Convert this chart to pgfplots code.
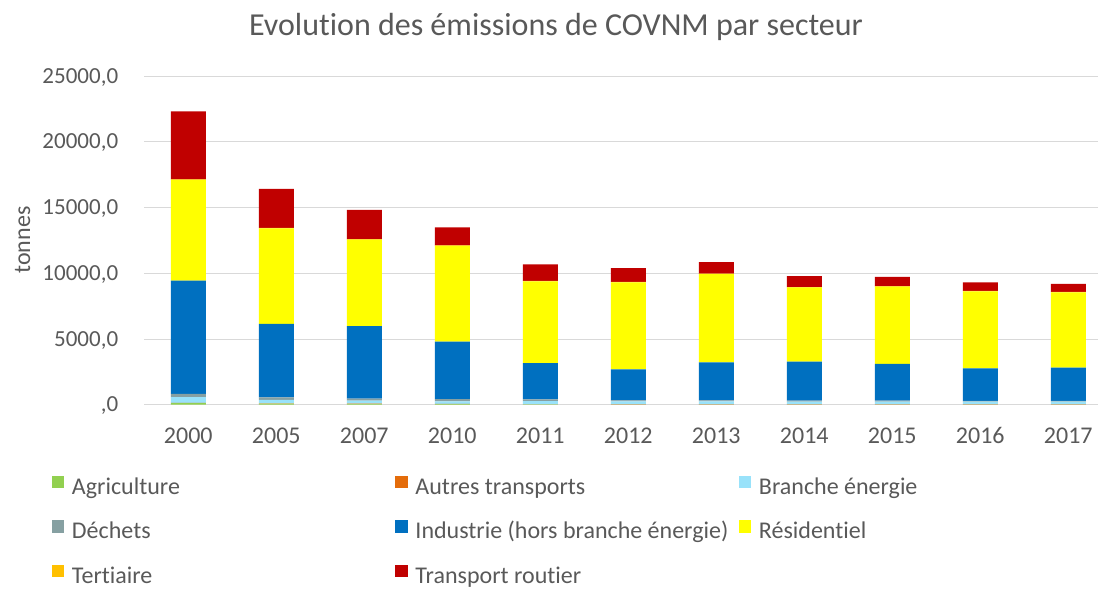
\documentclass[border=0pt]{standalone}
\usepackage{pgfplots}
\pgfplotsset{compat=1.18}
\usepackage{fontspec}
\setmainfont{Carlito}[Ligatures=NoCommon]
\definecolor{txt}{HTML}{595959}
\definecolor{gridgray}{HTML}{D9D9D9}
\definecolor{cagri}{HTML}{92D050}
\definecolor{cautres}{HTML}{E46C0A}
\definecolor{cbranche}{HTML}{99E2FA}
\definecolor{cdechets}{HTML}{86A0A2}
\definecolor{cindus}{HTML}{0070C0}
\definecolor{cresid}{HTML}{FFFF00}
\definecolor{ctert}{HTML}{FFC000}
\definecolor{ctrans}{HTML}{C00000}
\newcommand{\fs}{\fontsize{24bp}{28bp}\selectfont}
\newcommand{\cA}[1]{\makebox[323.5bp][l]{#1}}
\begin{document}
\begin{tikzpicture}
\useasboundingbox (0,0) rectangle (1098bp,589bp);
\node[anchor=base, text=txt, font=\fontsize{32bp}{38bp}\selectfont] at (556bp,553bp) {Evolution des émissions de COVNM par secteur};
\node[rotate=90, anchor=base, text=txt, font=\fs] at (30bp,349bp) {tonnes};
\begin{axis}[
  at={(144.3bp,184.3bp)}, anchor=south west,
  scale only axis, width=953.7bp, height=328.4bp,
  ybar stacked, bar width=35bp,
  ymin=0, ymax=25000, xmin=-0.5, xmax=10.3375,
  scaled y ticks=false,
  xtick={0,...,10},
  xticklabels={2000,2005,2007,2010,2011,2012,2013,2014,2015,2016,2017},
  ytick={0,5000,10000,15000,20000,25000},
  yticklabels={{,0},{5000,0},{10000,0},{15000,0},{20000,0},{25000,0}},
  ymajorgrids, grid style={draw=gridgray, line width=1bp},
  axis x line*=bottom, axis y line*=left,
  y axis line style={draw=none},
  x axis line style={draw=gridgray, line width=1.3bp, -},
  major tick length=0pt,
  tick label style={font=\fs, text=txt},
  yticklabel style={font=\fontsize{23bp}{27bp}\selectfont},
  xticklabel style={anchor=base, yshift=-38.6bp},
  yticklabel style={anchor=base east, xshift=-22.6bp, yshift=-7bp},
  legend columns=3,
  legend cell align=left,
  legend image code/.code={\fill[#1] (0bp,0bp) rectangle (12.5bp,12.5bp);},
  legend style={at={(-0.0968,-0.2170)}, anchor=north west, draw=none, fill=none,
    inner sep=0pt, outer sep=0pt, row sep=21bp, font=\fs, text=txt,
    nodes={inner sep=0pt, text height=17bp, text depth=5bp},
    /tikz/every odd column/.style={column sep=7.5bp},
    /tikz/every even column/.style={column sep=0pt}},
  every axis plot/.append style={draw=none},
]
\addplot[fill=cagri] coordinates {(0,120) (1,80) (2,60) (3,40) (4,20) (5,10) (6,10) (7,10) (8,10) (9,10) (10,10)};
\addlegendentry{\cA{Agriculture}}
\addplot[fill=cautres] coordinates {(0,20) (1,30) (2,20) (3,20) (4,10) (5,10) (6,10) (7,10) (8,10) (9,10) (10,10)};
\addlegendentry{\cA{Autres transports}}
\addplot[fill=cbranche] coordinates {(0,430) (1,260) (2,230) (3,200) (4,250) (5,230) (6,230) (7,220) (8,220) (9,210) (10,210)};
\addlegendentry{Branche énergie}
\addplot[fill=cdechets] coordinates {(0,250) (1,190) (2,160) (3,170) (4,130) (5,70) (6,70) (7,70) (8,70) (9,70) (10,70)};
\addlegendentry{\cA{Déchets}}
\addplot[fill=cindus] coordinates {(0,8625) (1,5585) (2,5520) (3,4370) (4,2760) (5,2370) (6,2900) (7,2960) (8,2790) (9,2470) (10,2520)};
\addlegendentry{\cA{Industrie (hors branche énergie)}}
\addplot[fill=cresid] coordinates {(0,7665) (1,7285) (2,6575) (3,7285) (4,6220) (5,6625) (6,6726) (7,5660) (8,5889) (9,5862) (10,5736)};
\addlegendentry{Résidentiel}
\addplot[fill=ctert] coordinates {(0,40) (1,40) (2,40) (3,40) (4,30) (5,30) (6,30) (7,30) (8,30) (9,30) (10,30)};
\addlegendentry{\cA{Tertiaire}}
\addplot[fill=ctrans] coordinates {(0,5185) (1,2955) (2,2220) (3,1380) (4,1260) (5,1060) (6,884) (7,833) (8,706) (9,656) (10,605)};
\addlegendentry{\cA{Transport routier}}
\end{axis}
\end{tikzpicture}
\end{document}
